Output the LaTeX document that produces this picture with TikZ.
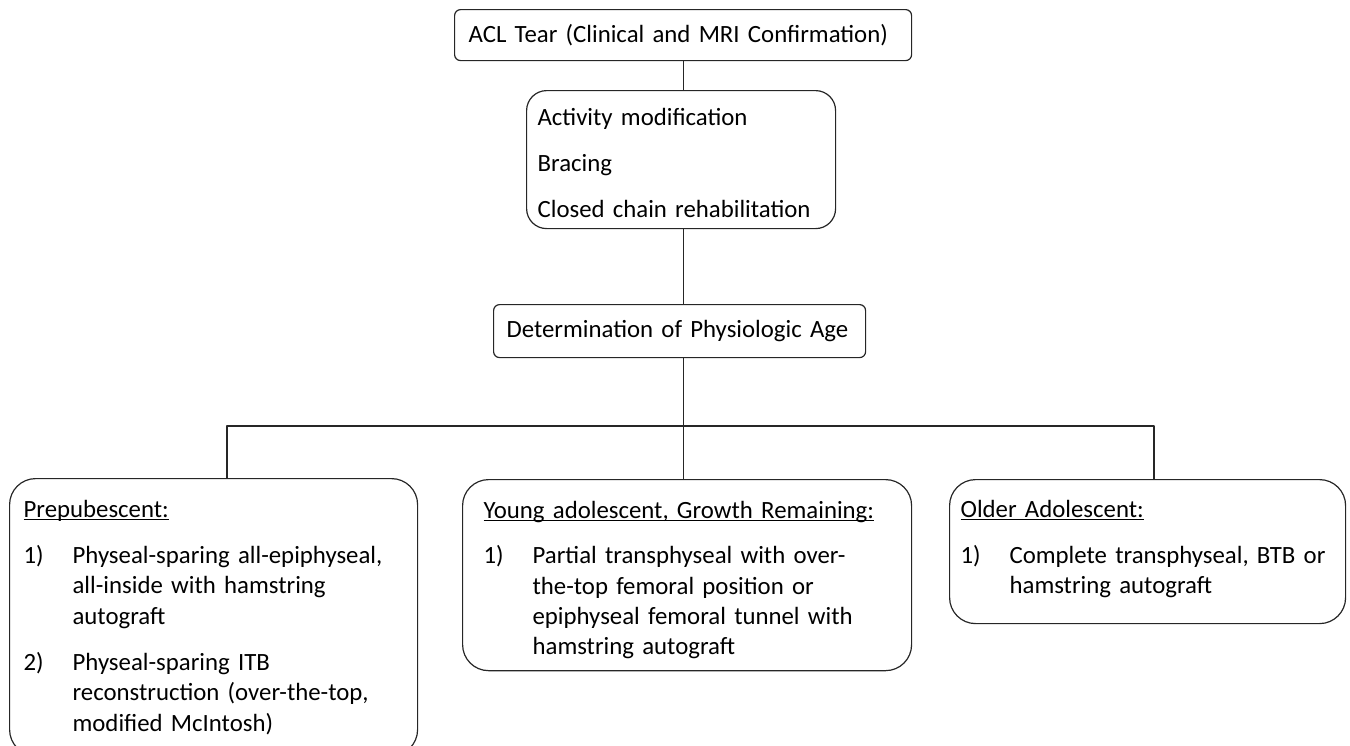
\documentclass[tikz,border=0pt]{standalone}
\usepackage{fontspec}
\setmainfont{Carlito}
\newcommand\hdg[1]{\setbox0\hbox{#1}\rlap{\rule[-1.2pt]{\wd0}{0.5pt}}\box0}
\begin{document}
\begin{tikzpicture}[x=0.5pt,y=-0.5pt, line join=round, line cap=round,
	font=\fontsize{12.4}{15.2}\selectfont,
	box/.style={draw=black!85, line width=0.6pt, rounded corners=#1, align=left, anchor=north west},
	box/.default=3pt,
	link/.style={draw=black!85, line width=0.6pt}]
	\useasboundingbox (0,0) rectangle (1350,745);
	\clip (0,0) rectangle (1350,745);
	\node[box, text width=214.5pt, inner xsep=7pt, minimum height=25.5pt] (acl) at (454,9) {ACL Tear (Clinical and MRI Confirmation)};
	\node[box=10pt, text width=143.5pt, inner xsep=5.5pt, minimum height=69pt] (cons) at (526,90)
		{\rule{0pt}{12pt}Activity modification\\[7.75pt] Bracing\\[7.75pt] Closed chain rehabilitation};
	\node[box, text width=173pt, inner xsep=6.5pt, minimum height=26.5pt] (age) at (493,304) {Determination of Physiologic Age};
	\node[box=13pt, text width=190pt, inner xsep=7pt, minimum height=138.5pt] (pre) at (9,478)
		{\rule{0pt}{12pt}\hdg{Prepubescent:}\\[7.5pt]
		\begin{tabular}[t]{@{}p{24.5pt}@{}l@{}}
			1) & Physeal-sparing all-epiphyseal,\\
			   & all-inside with hamstring\\
			   & autograft\\[8pt]
			2) & Physeal-sparing ITB\\
			   & reconstruction (over-the-top,\\
			   & modified McIntosh)
		\end{tabular}};
	\node[box=13pt, text width=203.5pt, inner xsep=10.5pt, minimum height=95pt] (young) at (462,479)
		{\rule{0pt}{16pt}\hdg{Young adolescent, Growth Remaining:}\\[7.5pt]
		\begin{tabular}[t]{@{}p{24.5pt}@{}l@{}}
			1) & Partial transphyseal with over-\\
			   & the-top femoral position or\\
			   & epiphyseal femoral tunnel with\\
			   & hamstring autograft
		\end{tabular}};
	\node[box=13pt, text width=187pt, inner xsep=5.5pt, minimum height=72pt] (older) at (949,479)
		{\hdg{Older Adolescent:}\\[7.5pt]
		\begin{tabular}[t]{@{}p{24.5pt}@{}l@{}}
			1) & Complete transphyseal, BTB or\\
			   & hamstring autograft
		\end{tabular}};
	\coordinate (busL) at (227,426);
	\coordinate (busR) at (1154,426);
	\draw[link] (acl.south) -- (acl.south |- cons.north);
	\draw[link] (acl.south |- cons.south) -- (acl.south |- age.north);
	\draw[link] (acl.south |- age.south) -- (acl.south |- young.north);
	\draw[link] (busL |- pre.north) -- (busL) -- (busR) -- (busR |- older.north);
\end{tikzpicture}
\end{document}
